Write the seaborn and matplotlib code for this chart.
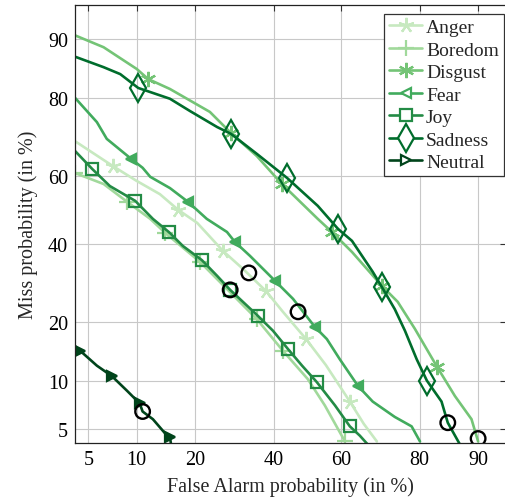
"""
DET curves per emotion (miss vs false alarm, normal-deviate axes).
Writes out.png
"""

import numpy as np
import pandas as pd
import matplotlib
matplotlib.use("Agg")
import matplotlib.pyplot as plt
from matplotlib.lines import Line2D
import seaborn as sns
from statistics import NormalDist

# ---- data (percent) ------------------------------------------------------
EMOTIONS = ["Anger", "Boredom", "Disgust", "Fear", "Joy", "Sadness", "Neutral"]

ANGER_FA   = [4.05, 7.2, 10.0, 13.4, 16.6, 20.4, 26.3, 31.4, 37.8, 42.7, 49.6, 55.5, 62.5, 66.4, 69.9]
ANGER_MISS = [69.7, 62.9, 58.6, 54.7, 50.0, 46.1, 37.9, 32.9, 27.1, 22.2, 16.6, 12.2, 7.5, 5.4, 4.1]

BOREDOM_FA   = [4.05, 6.3, 8.8, 11.9, 14.3, 21.0, 27.5, 35.2, 42.7, 50.1, 55.2, 61.1]
BOREDOM_MISS = [60.9, 57.7, 52.4, 47.3, 43.1, 34.8, 27.4, 20.6, 14.5, 10.2, 7.1, 4.1]

DISGUST_FA   = [4.05, 6.3, 10.0, 11.6, 15.1, 23.2, 28.3, 35.2, 42.4, 53.1, 57.3, 63.1,
                71.2, 75.1, 79.0, 83.5, 86.6, 89.1, 90.0]
DISGUST_MISS = [90.5, 88.9, 85.5, 83.7, 81.8, 76.9, 71.8, 65.7, 57.7, 47.3, 43.4, 37.6,
                28.4, 24.5, 18.6, 11.9, 8.1, 5.8, 4.1]

FEAR_FA   = [4.05, 5.7, 6.6, 9.3, 10.8, 11.9, 15.1, 18.5, 22.5, 27.3, 29.3, 33.3, 40.4,
             45.7, 52.2, 55.8, 59.6, 64.8, 68.8, 74.4, 78.3, 80.1]
FEAR_MISS = [80.0, 74.5, 70.3, 64.9, 62.4, 59.8, 56.5, 52.4, 47.3, 43.4, 40.5, 36.5, 29.7,
             25.2, 19.0, 16.6, 13.1, 9.3, 7.5, 6.0, 5.2, 4.1]

JOY_FA   = [4.05, 5.3, 6.9, 9.8, 12.3, 14.9, 17.5, 21.4, 24.9, 28.1, 31.4, 35.5, 39.8,
            44.2, 48.4, 52.8, 58.2, 62.5, 65.3, 67.5]
JOY_MISS = [67.1, 62.1, 57.1, 52.7, 47.3, 43.4, 39.3, 35.3, 31.0, 27.4, 24.5, 21.3, 18.2,
            14.8, 12.1, 9.8, 7.1, 5.2, 4.5, 3.9]

SADNESS_FA   = [4.05, 6.3, 8.0, 10.2, 15.1, 18.9, 24.9, 28.3, 35.2, 43.9, 53.1, 59.1, 63.1,
                68.8, 71.2, 74.4, 76.8, 79.4, 81.5, 84.3, 85.4, 87.4]
SADNESS_MISS = [87.5, 85.8, 84.6, 82.0, 79.8, 77.1, 73.3, 71.6, 66.3, 59.5, 51.2, 44.3, 40.8,
                32.1, 28.1, 22.8, 18.2, 13.1, 10.0, 7.5, 5.5, 3.9]

NEUTRAL_FA   = [4.05, 4.4, 5.7, 7.1, 8.8, 10.4, 10.8, 12.3, 14.6, 15.1, 15.3]
NEUTRAL_MISS = [15.3, 14.5, 12.1, 10.6, 8.7, 7.3, 6.5, 5.8, 4.5, 4.4, 3.9]

# operating points (black circles)
CIRCLE_FA   = [10.8, 28.1, 33.0, 47.2, 85.4, 90.0]
CIRCLE_MISS = [6.5, 27.4, 31.8, 22.2, 5.5, 4.3]

TICKS = [5, 10, 20, 40, 60, 80, 90]

CURVES = {
    "Anger":   (ANGER_FA, ANGER_MISS),
    "Boredom": (BOREDOM_FA, BOREDOM_MISS),
    "Disgust": (DISGUST_FA, DISGUST_MISS),
    "Fear":    (FEAR_FA, FEAR_MISS),
    "Joy":     (JOY_FA, JOY_MISS),
    "Sadness": (SADNESS_FA, SADNESS_MISS),
    "Neutral": (NEUTRAL_FA, NEUTRAL_MISS),
}

# ---- style ---------------------------------------------------------------
COLORS = ["#c7e9c0", "#a1d99b", "#74c476", "#41ab5d", "#238b45", "#006d2c", "#00441b"]
STYLE = {
    "Anger":   dict(marker=(5, 2, 0), ms=11, fill=False, markevery=[1, 4, 6, 8, 10, 12]),
    "Boredom": dict(marker="+", ms=12, fill=False, markevery=[0, 2, 4, 5, 7, 8, 11]),
    "Disgust": dict(marker=(6, 2, 0), ms=11, fill=False, markevery=[3, 6, 8, 10, 12, 15]),
    "Fear":    dict(marker="<", ms=7, fill=True, markevery=[3, 7, 10, 12, 14, 17]),
    "Joy":     dict(marker="s", ms=8, fill=False, markevery=[1, 3, 5, 7, 9, 11, 13, 15, 17]),
    "Sadness": dict(marker="d", ms=14, fill=False, markevery=[3, 7, 9, 11, 14, 18]),
    "Neutral": dict(marker=">", ms=7, fill=True, markevery=[1, 3, 5, 9]),
}
LW = 1.9
MEW = 1.6
FS = 14.5

sns.set_theme(style="whitegrid")
plt.rcParams.update({
    "font.family": "serif",
    "font.serif": ["Liberation Serif", "DejaVu Serif"],
    "font.size": FS,
    "axes.labelsize": FS,
    "xtick.labelsize": FS,
    "ytick.labelsize": FS,
    "axes.edgecolor": "#222222",
    "axes.linewidth": 0.9,
    "grid.color": "#c8c8c8",
    "grid.linewidth": 0.8,
    "xtick.direction": "in",
    "ytick.direction": "in",
    "xtick.top": True,
    "ytick.right": True,
    "xtick.color": "#333333",
    "ytick.color": "#333333",
    "xtick.labelcolor": "black",
    "ytick.labelcolor": "black",
})

_nd = NormalDist()
_ppf = np.vectorize(_nd.inv_cdf, otypes=[float])
_cdf = np.vectorize(_nd.cdf, otypes=[float])


def probit(p):
    p = np.clip(np.asarray(p, dtype=float) / 100.0, 1e-9, 1 - 1e-9)
    return _ppf(p)


def inv_probit(z):
    return _cdf(np.asarray(z, dtype=float)) * 100.0


rows = []
for name, (fa, miss) in CURVES.items():
    for i, (f, m) in enumerate(zip(fa, miss)):
        rows.append({"emotion": name, "idx": i, "fa": f, "miss": m})
df = pd.DataFrame(rows)

fig = plt.figure(figsize=(5.06, 5.02), dpi=100)
ax = fig.add_axes([0.1482, 0.1149, 0.8518, 0.8731])

handles = []
for name, color in zip(EMOTIONS, COLORS):
    st = STYLE[name]
    sub = df[df["emotion"] == name].sort_values("idx")
    sns.lineplot(data=sub, x="fa", y="miss", sort=False, estimator=None,
                 color=color, lw=LW, marker=st["marker"], ms=st["ms"],
                 mfc=color if st["fill"] else "none", mec=color, mew=MEW,
                 markevery=st["markevery"], legend=False, ax=ax)
    # legend keys are drawn hollow, as in the original figure
    handles.append(Line2D([0], [0], color=color, lw=LW, marker=st["marker"],
                          ms=st["ms"], mfc="white", mec=color, mew=MEW, label=name))

sns.scatterplot(x=CIRCLE_FA, y=CIRCLE_MISS, marker="o", s=110, facecolor="none",
                edgecolor="black", linewidth=1.7, zorder=5, ax=ax)

ax.set_xscale("function", functions=(probit, inv_probit))
ax.set_yscale("function", functions=(probit, inv_probit))
ax.set_xlim(4.05, 93.2)
ax.set_ylim(3.98, 93.8)
ax.set_xticks(TICKS)
ax.set_yticks(TICKS)
ax.set_xticklabels([str(t) for t in TICKS])
ax.set_yticklabels([str(t) for t in TICKS])
ax.minorticks_off()
ax.tick_params(length=4, width=0.8)
ax.tick_params(axis="x", pad=5)
ax.tick_params(axis="y", pad=5)
ax.grid(True, which="major")

ax.set_xlabel("False Alarm probability (in %)", labelpad=5)
ax.set_ylabel("Miss probability (in %)", labelpad=7)

leg = ax.legend(handles=handles, loc="upper right", bbox_to_anchor=(0.995, 0.98),
                frameon=True, fancybox=False, framealpha=1, edgecolor="#333333",
                borderpad=0.25, labelspacing=0.25, handlelength=1.7,
                handletextpad=0.2, borderaxespad=0.0, fontsize=14)
leg.get_frame().set_linewidth(0.9)

fig.savefig("out.png", dpi=100, facecolor="white")
plt.close(fig)
